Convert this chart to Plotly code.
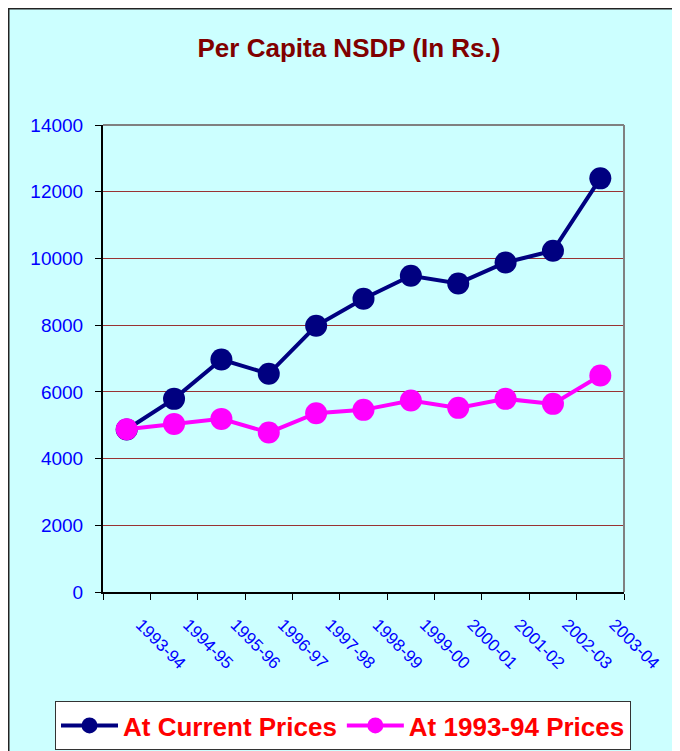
import plotly.graph_objects as go

years = ["1993-94", "1994-95", "1995-96", "1996-97", "1997-98", "1998-99",
         "1999-00", "2000-01", "2001-02", "2002-03", "2003-04"]
current_prices = [4870, 5790, 6970, 6540, 7980, 8790, 9480, 9250, 9880, 10230, 12400]
constant_prices = [4880, 5040, 5190, 4780, 5360, 5460, 5740, 5520, 5790, 5640, 6490]
y_ticks = [0, 2000, 4000, 6000, 8000, 10000, 12000, 14000]

fig = go.Figure()
fig.add_trace(go.Scatter(
    x=years, y=current_prices, name="<b>At Current Prices</b>", mode="lines+markers",
    line=dict(color="#000080", width=4),
    marker=dict(color="#000080", size=22),
))
fig.add_trace(go.Scatter(
    x=years, y=constant_prices, name="<b>At 1993-94 Prices</b>", mode="lines+markers",
    line=dict(color="#FF00FF", width=4),
    marker=dict(color="#FF00FF", size=22),
))

OFF = 8  # page body margin
W, H = 680, 751
L, T = 103 - OFF, 125 - OFF
R = W - (624 - OFF)
B = H - (592 - OFF)
pw, ph = W - L - R, H - T - B

def px(x):
    return (x - OFF - L) / pw

def py(y):
    return (H - B - (y - OFF)) / ph

fig.update_layout(
    width=W, height=H,
    margin=dict(l=L, r=R, t=T, b=B, pad=0, autoexpand=False),
    paper_bgcolor="#CCFFFF",
    plot_bgcolor="#CCFFFF",
    font=dict(family="Liberation Sans, Arial, sans-serif"),
    title=dict(text="<b>Per Capita NSDP (In Rs.)</b>", x=(349 - OFF) / W,
               xanchor="center", y=1 - (47.5 - OFF) / H, yanchor="middle",
               font=dict(size=26, color="#800000")),
    showlegend=True,
    legend=dict(orientation="h", xref="paper", yref="paper",
                x=px(55), xanchor="left",
                y=py(725.5), yanchor="middle",
                bgcolor="white", bordercolor="#333333", borderwidth=1,
                font=dict(size=26, color="#FF0000", family="Liberation Sans, Arial, sans-serif"),
                itemwidth=57, tracegroupgap=0),
    xaxis=dict(
        type="category", range=[-0.5, 10.5], tickson="boundaries",
        showgrid=False, showline=True, linecolor="#000000", linewidth=2,
        ticks="outside", ticklen=6, tickcolor="#000000", tickwidth=1,
        tickangle=45, tickfont=dict(size=17, color="#0000FF"),
        ticklabelstandoff=14, ticklabelshift=14, automargin=False,
        zeroline=False,
    ),
    yaxis=dict(
        range=[0, 14000], tickvals=y_ticks, tickformat="d",
        showgrid=True, gridcolor="#993333", gridwidth=1,
        showline=True, linecolor="#000000", linewidth=2,
        ticks="outside", ticklen=6, tickcolor="#000000",
        tickfont=dict(size=19, color="#0000FF"),
        ticklabelstandoff=8, automargin=False,
        zeroline=False,
    ),
    shapes=[
        dict(type="line", xref="paper", yref="paper", x0=0, x1=1, y0=1, y1=1,
             line=dict(color="#808080", width=2)),
        dict(type="line", xref="paper", yref="paper", x0=1, x1=1, y0=0, y1=1,
             line=dict(color="#808080", width=2)),
        dict(type="line", xref="paper", yref="paper", x0=px(OFF), x1=px(720),
             y0=py(OFF + 0.5), y1=py(OFF + 0.5),
             line=dict(color="#222222", width=2)),
        dict(type="line", xref="paper", yref="paper", x0=px(OFF + 0.5), x1=px(OFF + 0.5),
             y0=py(OFF), y1=py(780),
             line=dict(color="#222222", width=2)),
    ],
)

fig.write_html(
    "out.html",
    post_script="document.documentElement.style.overflow='hidden';"
                "document.body.style.overflow='hidden';",
)
